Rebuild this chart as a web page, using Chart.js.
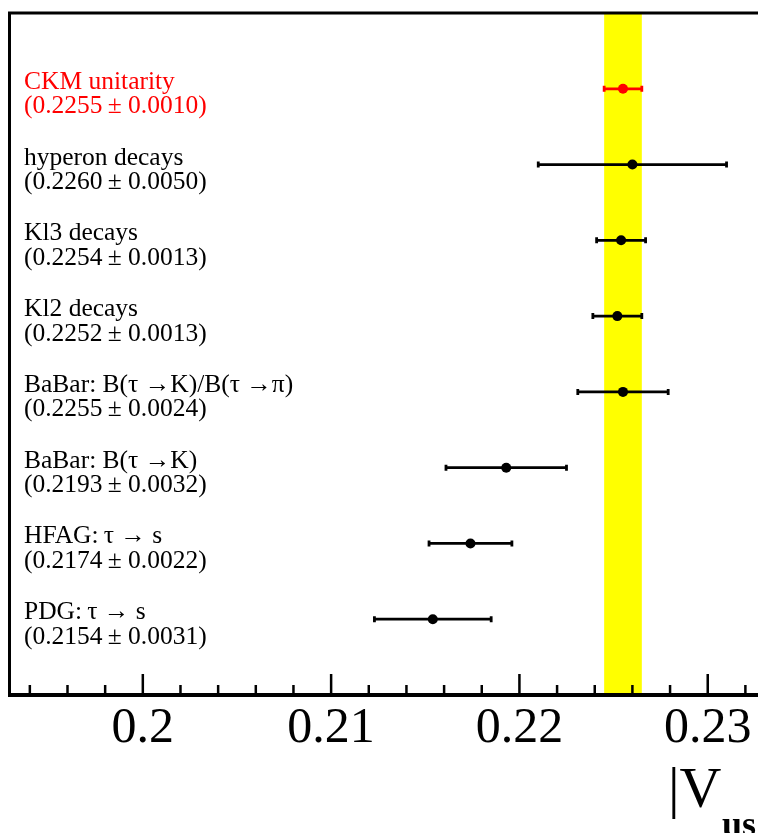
<!DOCTYPE html>
<html>
<head>
<meta charset="utf-8">
<script src="https://cdn.jsdelivr.net/npm/chart.js@4"></script>
<style>
  html, body { margin: 0; padding: 0; background: #fff; overflow: hidden; }
  #wrap { width: 758px; height: 833px; }
  canvas { display: block; }
</style>
</head>
<body>
<div id="wrap"><canvas id="chart" width="758" height="833"></canvas></div>
<script>
// Mesures de |Vus| (du haut vers le bas)
const names = ['CKM unitarity', 'hyperon decays', 'Kl3 decays', 'Kl2 decays',
  'BaBar: B(\u03C4 \u2192K)/B(\u03C4 \u2192\u03C0)', 'BaBar: B(\u03C4 \u2192K)',
  'HFAG:\u2009\u03C4 \u2192 s', 'PDG:\u2009\u03C4 \u2192 s'];
const values = [0.2255, 0.2260, 0.2254, 0.2252, 0.2255, 0.2193, 0.2174, 0.2154];
const errors = [0.0010, 0.0050, 0.0013, 0.0013, 0.0024, 0.0032, 0.0022, 0.0031];
const valueLabels = ['(0.2255\u2009\u00B1 0.0010)', '(0.2260\u2009\u00B1 0.0050)', '(0.2254\u2009\u00B1 0.0013)',
  '(0.2252\u2009\u00B1 0.0013)', '(0.2255\u2009\u00B1 0.0024)', '(0.2193\u2009\u00B1 0.0032)',
  '(0.2174\u2009\u00B1 0.0022)', '(0.2154\u2009\u00B1 0.0031)'];
const colors = ['#ff0000', '#000', '#000', '#000', '#000', '#000', '#000', '#000'];
// bande jaune : unitarité CKM
const bandCenter = 0.2255;
const bandHalfWidth = 0.0010;
const xMin = 0.19292, xMax = 0.23267;

const rowY = names.map((n, i) => names.length - i); // 8 ... 1

const points = values.map((v, i) => ({ x: v, y: rowY[i] }));

// Plugin : cadre, bande, barres d'erreur, étiquettes, graduations
const physPlugin = {
  id: 'phys',
  beforeDatasetsDraw(chart) {
    const { ctx, chartArea: a, scales: { x, y } } = chart;
    ctx.save();
    // bande jaune
    const bx0 = x.getPixelForValue(bandCenter - bandHalfWidth);
    const bx1 = x.getPixelForValue(bandCenter + bandHalfWidth);
    ctx.fillStyle = '#ffff00';
    ctx.fillRect(bx0, a.top, bx1 - bx0, a.bottom - a.top);
    // barres d'erreur
    ctx.lineWidth = 2.8;
    values.forEach((v, i) => {
      const py = y.getPixelForValue(rowY[i]);
      const lo = x.getPixelForValue(v - errors[i]);
      const hi = x.getPixelForValue(v + errors[i]);
      ctx.strokeStyle = colors[i];
      ctx.beginPath();
      ctx.moveTo(lo, py); ctx.lineTo(hi, py);
      ctx.moveTo(lo, py - 3); ctx.lineTo(lo, py + 3);
      ctx.moveTo(hi, py - 3); ctx.lineTo(hi, py + 3);
      ctx.stroke();
    });
    ctx.restore();
  },
  afterDraw(chart) {
    const { ctx, chartArea: a, scales: { x, y } } = chart;
    ctx.save();
    // cadre
    ctx.strokeStyle = '#000';
    ctx.lineWidth = 3;
    ctx.beginPath();
    ctx.moveTo(a.left, a.bottom); ctx.lineTo(a.left, a.top); ctx.lineTo(a.right + 2, a.top);
    ctx.stroke();
    ctx.lineWidth = 4;
    ctx.beginPath();
    ctx.moveTo(a.left - 1.5, a.bottom); ctx.lineTo(a.right + 2, a.bottom);
    ctx.stroke();
    // graduations vers l'intérieur
    ctx.lineWidth = 2.5;
    x.ticks.forEach(t => {
      const px = x.getPixelForValue(t.value);
      const major = t.label !== '';
      ctx.beginPath();
      ctx.moveTo(px, a.bottom);
      ctx.lineTo(px, a.bottom - (major ? 21 : 10));
      ctx.stroke();
    });
    // étiquettes
    ctx.font = '25.5px "Liberation Serif", "Times New Roman", serif';
    ctx.textAlign = 'left';
    ctx.textBaseline = 'alphabetic';
    names.forEach((n, i) => {
      const py = y.getPixelForValue(rowY[i]);
      ctx.fillStyle = colors[i];
      ctx.fillText(n, 24, py);
      ctx.fillText(valueLabels[i], 24, py + 24.5);
    });
    // titre de l'axe
    ctx.fillStyle = '#000';
    ctx.font = '58px "Liberation Serif", "Times New Roman", serif';
    ctx.fillText('|V', 668, 807);
    ctx.font = 'bold 36px "Liberation Serif", "Times New Roman", serif';
    ctx.fillText('us', 722, 836);
    ctx.restore();
  }
};

new Chart(document.getElementById('chart'), {
  type: 'scatter',
  data: {
    datasets: [{
      data: points,
      pointRadius: 5,
      pointHoverRadius: 5,
      pointBackgroundColor: colors,
      pointBorderColor: colors,
      pointBorderWidth: 0,
      showLine: false
    }]
  },
  options: {
    responsive: false,
    animation: false,
    events: [],
    layout: { autoPadding: false, padding: { left: 9.5, top: 13, right: 0, bottom: 0 } },
    plugins: { legend: { display: false }, tooltip: { enabled: false } },
    scales: {
      x: {
        type: 'linear',
        min: xMin,
        max: xMax,
        grid: { display: false, drawTicks: false },
        border: { display: false },
        afterFit(scale) { scale.height = 138; },
        ticks: {
          stepSize: 0.002,
          includeBounds: false,
          autoSkip: false,
          maxRotation: 0,
          padding: 4,
          color: '#000',
          font: { family: '"Liberation Serif", "Times New Roman", serif', size: 50 },
          callback(value) {
            const r = Math.round(value * 100);
            return Math.abs(value * 100 - r) < 1e-6 ? String(r / 100) : '';
          }
        }
      },
      y: {
        display: false,
        min: 0,
        max: 9
      }
    }
  },
  plugins: [physPlugin]
});
</script>
</body>
</html>
